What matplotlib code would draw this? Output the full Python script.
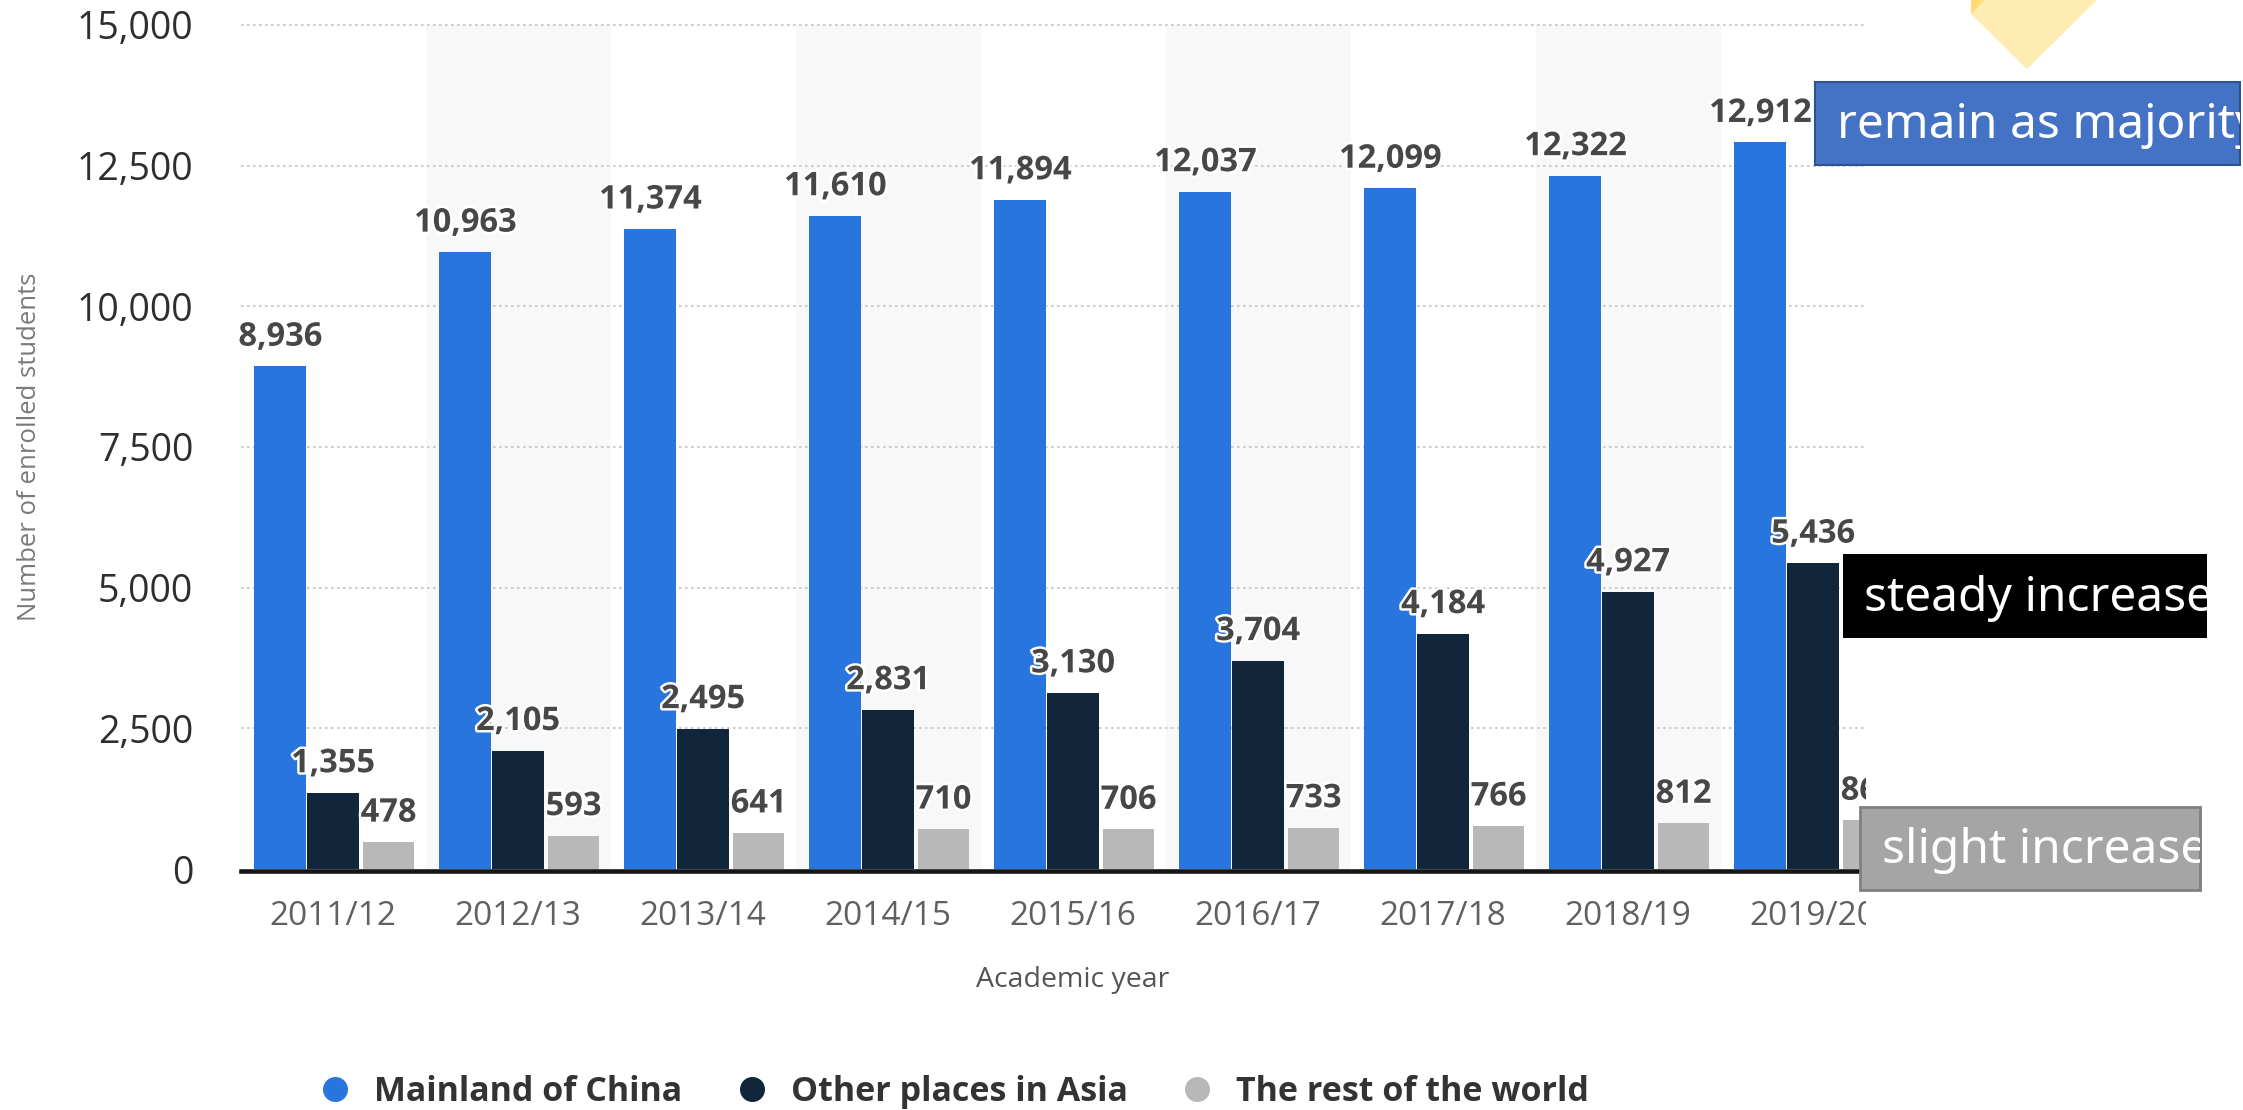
import matplotlib
matplotlib.use('Agg')
import matplotlib.pyplot as plt
import numpy as np
from matplotlib.patches import Rectangle, Polygon
from matplotlib.lines import Line2D
import matplotlib.patheffects as pe

# ---------------- data ----------------
years = ['2011/12', '2012/13', '2013/14', '2014/15', '2015/16',
         '2016/17', '2017/18', '2018/19', '2019/20']
mainland = [8936, 10963, 11374, 11610, 11894, 12037, 12099, 12322, 12912]
other_asia = [1355, 2105, 2495, 2831, 3130, 3704, 4184, 4927, 5436]
rest_world = [478, 593, 641, 710, 706, 733, 766, 812, 866]
series_names = ['Mainland of China', 'Other places in Asia', 'The rest of the world']
y_ticks = [0, 2500, 5000, 7500, 10000, 12500, 15000]
notes = ['remain as majority', 'steady increase', 'slight increase']

colors = ['#2876dd', '#12263b', '#b8b8b8']

plt.rcParams['font.family'] = ['Open Sans', 'DejaVu Sans']

W, H = 2243, 1110
DPI = 100
fig = plt.figure(figsize=(W / DPI, H / DPI), dpi=DPI)
fig.patch.set_facecolor('white')


def fx(x):
    return x / W


def fy(y):
    return 1 - y / H


ax_left = 240.5
ax_right = ax_left + 185 * 9
y0_px, y15_px = 869, 25
ymax = 15300
px_per = (y0_px - y15_px) / 15000
ax_top_px = y0_px - ymax * px_per
ax = fig.add_axes([fx(ax_left), fy(y0_px), (ax_right - ax_left) / W, (y0_px - ax_top_px) / H])
ax.set_xlim(-0.5, len(years) - 0.5)
ax.set_ylim(0, ymax)
ax.set_facecolor('white')

x = np.arange(len(years))

# alternating bands
for i in x:
    if i % 2 == 1:
        ax.axvspan(i - 0.5, i + 0.5, ymin=0, ymax=15000 / ymax, color='#f8f8f8', zorder=0, lw=0)

# gridlines
for v in y_ticks[1:]:
    ax.axhline(v, color='#cdcdcd', lw=1.44, ls=(0, (1.3, 1.7)), zorder=1)

bw = 0.281
offsets = [-0.285, 0.0, 0.30]
for vals, off, c in zip([mainland, other_asia, rest_world], offsets, colors):
    ax.bar(x + off, vals, bw, color=c, zorder=3, lw=0)
    for xi, v in zip(x, vals):
        ax.annotate(f'{v:,}', (xi + off, v), xytext=(0, 9), textcoords='offset points',
                    ha='center', va='bottom', fontsize=23.5, fontweight='bold', color='#474747',
                    path_effects=[pe.withStroke(linewidth=3.5, foreground='white')], zorder=4)

for s in ['top', 'right', 'left']:
    ax.spines[s].set_visible(False)
ax.spines['bottom'].set_color('#151515')
ax.spines['bottom'].set_linewidth(3.3)
ax.spines['bottom'].set_position(('outward', 1.6))

ax.set_yticks(y_ticks)
ax.set_yticklabels([f'{v:,}' for v in y_ticks])
ax.tick_params(axis='y', length=0, pad=34, labelsize=27, labelcolor='#2e2e2e')
ax.set_xticks(x)
ax.set_xticklabels(years)
ax.tick_params(axis='x', length=0, pad=21, labelsize=24, labelcolor='#606060')

fig.text(fx(1073), fy(980), 'Academic year', ha='center', va='center', fontsize=20.5, color='#555555')
fig.text(fx(30), fy(447), 'Number of enrolled students', ha='center', va='center',
         rotation=90, fontsize=18.5, color='#7a7a7a')

handles = [Line2D([], [], marker='o', ls='', markersize=17, markerfacecolor=c, markeredgecolor=c)
           for c in colors]
fig.legend(handles, series_names, loc='center', bbox_to_anchor=(fx(956), fy(1092)), ncol=3,
           frameon=False, prop=dict(family='Open Sans', weight='bold', size=24.5),
           handlelength=0.7, handletextpad=0.8, columnspacing=1.7, labelcolor='#333333')

# clip of screenshot on the right
fig.add_artist(Rectangle((fx(1866), 0), 1 - fx(1866), 1, transform=fig.transFigure,
                         facecolor='white', edgecolor='none', zorder=5))

# yellow shape
fig.add_artist(Polygon([(fx(1971), fy(14)), (fx(1985), fy(0)), (fx(2097), fy(0)), (fx(2027), fy(69))],
                       closed=True, transform=fig.transFigure, facecolor='#ffecb3', edgecolor='none', zorder=6))
fig.add_artist(Polygon([(fx(1971), fy(0)), (fx(1985), fy(0)), (fx(1971), fy(14))],
                       closed=True, transform=fig.transFigure, facecolor='#ffdc73', edgecolor='none', zorder=6))


def note_box(x0, y0, x1, y1, fc, ec, lw, text, tx):
    r = Rectangle((fx(x0), fy(y1)), (x1 - x0) / W, (y1 - y0) / H, transform=fig.transFigure,
                  facecolor=fc, edgecolor=ec, lw=lw, zorder=6)
    fig.add_artist(r)
    t = fig.text(fx(tx), fy((y0 + y1) / 2 + 2), text, ha='left', va='center', color='white',
                 fontsize=34.5, fontweight='light', family=['Noto Sans', 'DejaVu Sans'], zorder=7)
    t.set_clip_path(r)


note_box(1815, 82, 2240, 165, '#4472c4', '#2f528f', 1.5, notes[0], 1837)
note_box(1843, 554, 2207, 638, 'black', 'black', 0, notes[1], 1864)
note_box(1860, 807, 2200, 890, '#a5a5a5', '#7f7f7f', 2, notes[2], 1882)

fig.savefig('out.png', dpi=DPI)
